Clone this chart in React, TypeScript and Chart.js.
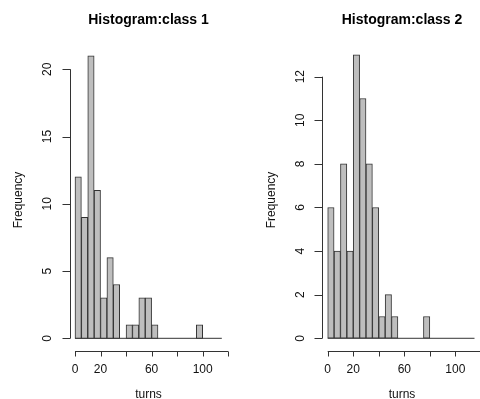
import React, { useEffect, useRef } from "react";
import { Chart, registerables } from "chart.js";

Chart.register(...registerables);

// Histogram bins (width 5) starting at 0
const binWidth = 5;
const class1Counts = [12, 9, 21, 11, 3, 6, 4, 0, 1, 1, 3, 3, 1, 0, 0, 0, 0, 0, 0, 1, 0, 0, 0];
const class2Counts = [6, 4, 8, 4, 13, 11, 8, 6, 1, 2, 1, 0, 0, 0, 0, 1, 0, 0, 0, 0, 0, 0, 0];
const class1Title = "Histogram:class 1";
const class2Title = "Histogram:class 2";
const xTitle = "turns";
const yTitle = "Frequency";
const xTicks = [0, 20, 40, 60, 80, 100, 120];
const xTickLabels = ["0", "20", "", "60", "", "100", ""];
const class1YTicks = [0, 5, 10, 15, 20];
const class2YTicks = [0, 2, 4, 6, 8, 10, 12];

type PanelCfg = {
  counts: number[];
  title: string;
  yTicks: number[];
  xMin: number;
  xMax: number;
  yMin: number;
  yMax: number;
  left: number;
  right: number;
  titleX: number;
};

const panels: PanelCfg[] = [
  { counts: class1Counts, title: class1Title, yTicks: class1YTicks, xMin: -3.13, xMax: 126.1, yMin: -0.87, yMax: 21.88, left: 71, right: 236, titleX: 148.5 },
  { counts: class2Counts, title: class2Title, yTicks: class2YTicks, xMin: -3.45, xMax: 119.3, yMin: -0.537, yMax: 13.5, left: 83.3, right: 240, titleX: 162 },
];

const TOP = 44;
const BOTTOM = 350;
const W = 240;
const H = 399;
const INK = "#333333";
const FONT = "'Liberation Sans', Arial, sans-serif";

function Panel({ cfg }: { cfg: PanelCfg }) {
  const ref = useRef<HTMLCanvasElement | null>(null);
  useEffect(() => {
    if (!ref.current) return;
    const barData = cfg.counts.map((c, i) => ({ x: i * binWidth + binWidth / 2, y: c }));
    const lastBreak = cfg.counts.length * binWidth;
    const axesPlugin = {
      id: "rAxes",
      afterDraw(chart: any) {
        const ctx = chart.ctx as CanvasRenderingContext2D;
        const xs = chart.scales.x;
        const ys = chart.scales.y;
        const area = chart.chartArea;
        ctx.save();
        ctx.strokeStyle = INK;
        ctx.fillStyle = "#111";
        ctx.lineWidth = 1;
        // x axis
        const ay = Math.round(area.bottom + 1) + 0.5;
        ctx.beginPath();
        ctx.moveTo(xs.getPixelForValue(xTicks[0]), ay);
        ctx.lineTo(xs.getPixelForValue(xTicks[xTicks.length - 1]), ay);
        xTicks.forEach((t) => {
          const px = Math.round(xs.getPixelForValue(t)) + 0.5;
          ctx.moveTo(px, ay);
          ctx.lineTo(px, ay + 5);
        });
        ctx.stroke();
        ctx.font = `12px ${FONT}`;
        ctx.textAlign = "center";
        ctx.textBaseline = "middle";
        xTicks.forEach((t, i) => {
          if (xTickLabels[i]) ctx.fillText(xTickLabels[i], xs.getPixelForValue(t), 370);
        });
        // y axis
        const ax = Math.round(area.left) - 0.5;
        ctx.beginPath();
        ctx.moveTo(ax, ys.getPixelForValue(cfg.yTicks[0]));
        ctx.lineTo(ax, ys.getPixelForValue(cfg.yTicks[cfg.yTicks.length - 1]));
        cfg.yTicks.forEach((t) => {
          const py = Math.round(ys.getPixelForValue(t)) + 0.5;
          ctx.moveTo(ax, py);
          ctx.lineTo(ax - 8, py);
        });
        ctx.stroke();
        cfg.yTicks.forEach((t) => {
          ctx.save();
          ctx.translate(area.left - 23, ys.getPixelForValue(t));
          ctx.rotate(-Math.PI / 2);
          ctx.fillText(String(t), 0, 0);
          ctx.restore();
        });
        // axis titles
        ctx.fillText(xTitle, cfg.titleX, 395);
        ctx.save();
        ctx.translate(area.left - 52, 200);
        ctx.rotate(-Math.PI / 2);
        ctx.fillText(yTitle, 0, 0);
        ctx.restore();
        // main title
        ctx.fillStyle = "#000";
        ctx.font = `bold 14px ${FONT}`;
        ctx.fillText(cfg.title, cfg.titleX, 20);
        ctx.restore();
      },
    };
    const chart = new Chart(ref.current, {
      type: "bar",
      data: {
        datasets: [
          {
            type: "bar",
            data: barData as any,
            backgroundColor: "#BEBEBE",
            borderColor: INK,
            borderWidth: 1,
            borderSkipped: false,
            barPercentage: 1,
            categoryPercentage: 1,
          } as any,
          {
            type: "line",
            data: [
              { x: 0, y: 0 },
              { x: lastBreak, y: 0 },
            ] as any,
            borderColor: INK,
            borderWidth: 1,
            pointRadius: 0,
            fill: false,
          } as any,
        ],
      },
      options: {
        responsive: false,
        animation: false,
        layout: { padding: { left: cfg.left, right: W - cfg.right, top: TOP, bottom: H - BOTTOM } },
        plugins: { legend: { display: false }, tooltip: { enabled: false }, title: { display: false } },
        scales: {
          x: { type: "linear", min: cfg.xMin, max: cfg.xMax, display: false, offset: false },
          y: { type: "linear", min: cfg.yMin, max: cfg.yMax, display: false },
        },
      },
      plugins: [axesPlugin],
    });
    return () => chart.destroy();
  }, [cfg]);
  return <canvas ref={ref} width={W} height={H} style={{ display: "block", width: W, height: H }} />;
}

export default function App() {
  return (
    <div style={{ position: "fixed", left: 0, top: 0, width: 480, height: 399, background: "#fff", display: "flex" }}>
      {panels.map((p, i) => (
        <Panel key={i} cfg={p} />
      ))}
    </div>
  );
}
